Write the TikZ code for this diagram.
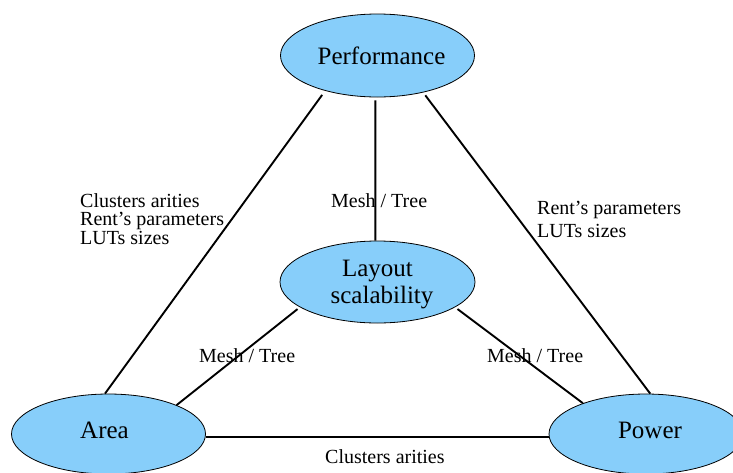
\documentclass[tikz,border=0pt]{standalone}
\usepackage{fontspec}
\setmainfont{Liberation Serif}
\usetikzlibrary{shapes.geometric}
\definecolor{bubblecol}{HTML}{87CEFA}
\begin{document}
\begin{tikzpicture}[x=1pt,y=-1pt,
  bubble/.style={ellipse, draw=black, line width=0.8pt, fill=bubblecol,
    minimum width=194pt, minimum height=83pt, inner sep=0pt,
    font=\fontsize{25}{27}\selectfont, align=center},
  lowbubble/.style={bubble, minimum height=80pt, text height=17pt, text depth=9pt},
  link/.style={line width=1.9pt, draw=black},
  lbl/.style={inner sep=0pt, font=\fontsize{20}{18.5}\selectfont, align=left}]
\clip (0,0) rectangle (733,472);
\node[bubble] (perf) at (377.5,55.5) {\hspace*{8pt}Performance};
\node[bubble, minimum width=195pt, minimum height=82pt, text depth=0pt] (lay) at (377.5,282) {Layout\\\hspace*{9pt}scalability};
\node[lowbubble] (area) at (108.5,434) {Area\hspace*{8pt}};
\node[lowbubble] (power) at (646,434) {\hspace*{8pt}Power};

\draw[link, shorten <=5pt] (perf.214) -- (area.95);
\draw[link, shorten <=3pt] (perf.267) -- (lay.93);
\draw[link, shorten <=3.5pt] (perf.321) -- (power.84);
\draw[link, shorten <=3pt] (lay.198) -- (area.23);
\draw[link, shorten <=3pt] (lay.342) -- (power.154);
\draw[link] (area.358) -- (power.182);

\node[lbl, anchor=north west] (lblleft) at (80,193) {Clusters arities\\Rent’s parameters\\LUTs sizes};
\node[lbl, anchor=north west, font=\fontsize{20}{23}\selectfont] (lblright) at (537,200.5) {Rent’s parameters\\LUTs sizes};
\node[lbl, anchor=base west] (lbltop) at (331,207) {Mesh / Tree};
\node[lbl, anchor=base west] (lblml) at (199,362) {Mesh / Tree};
\node[lbl, anchor=base west] (lblmr) at (487,362) {Mesh / Tree};
\node[lbl, anchor=base west] (lblbot) at (325,463) {Clusters arities};
\end{tikzpicture}
\end{document}
